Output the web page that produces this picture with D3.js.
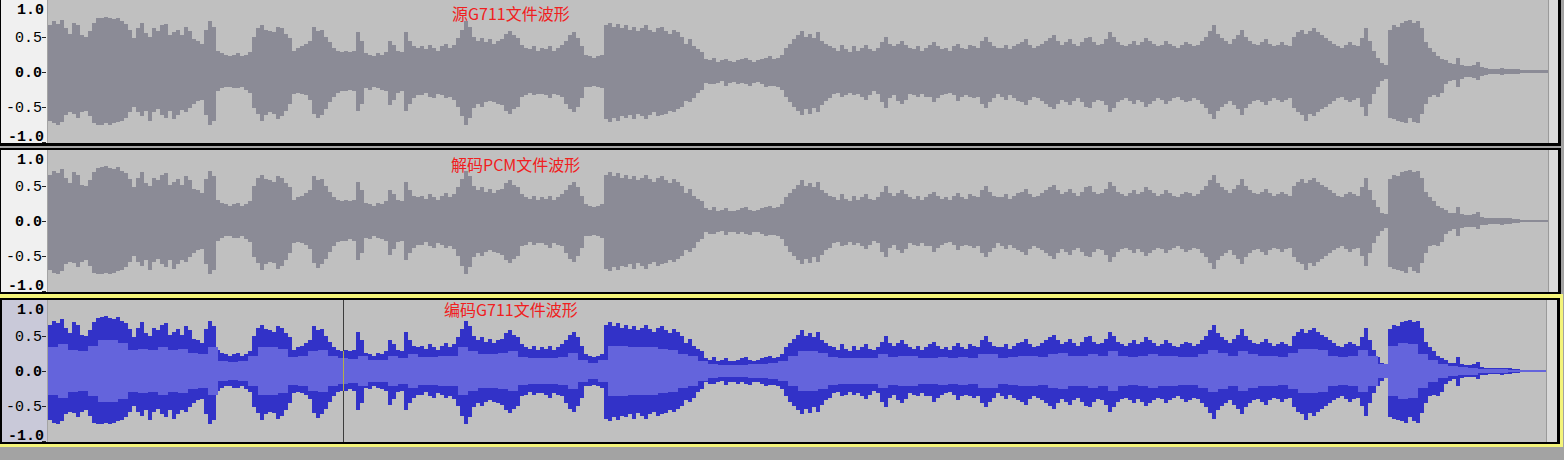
<!DOCTYPE html>
<html><head><meta charset="utf-8">
<script src="https://cdn.jsdelivr.net/npm/d3@7"></script>
<style>body{margin:0;background:#a3a3a3;overflow:hidden}svg{display:block}</style>
</head><body>
<script>
// ---------- DATA (amplitude x100, one value per waveform bin) ----------
const peakTop = [
 66,72,68,74,62,54,70,66,52,50,58,70,76,77,78,76,75,77,72,68,60,
 48,62,70,55,50,62,58,66,68,52,56,60,52,64,58,46,44,40,
 60,72,64,
 30,26,24,22,24,26,22,24,28,
 50,62,66,60,58,56,64,62,54,48,
 30,34,36,40,44,64,58,60,50,42,34,30,28,30,28,30,56,44,26,24,22,26,24,28,44,38,30,28,56,44,36,34,
 36,32,38,34,30,36,40,34,38,
 48,60,72,64,50,
 44,48,42,46,40,44,46,
 54,58,52,48,
 38,34,32,36,30,34,32,36,30,34,38,
 44,52,56,48,36,
 24,22,20,22,24,
 66,70,64,68,62,66,60,64,58,62,66,60,56,62,64,58,54,60,56,50,
 40,46,36,32,28,
 18,16,20,14,16,18,15,14,16,18,20,16,14,16,18,20,22,18,20,24,
 34,40,46,52,58,50,54,48,56,44,40,36,
 34,30,38,32,28,36,30,34,38,32,30,34,
 42,50,40,
 36,40,44,38,34,32,36,30,34,38,42,36,32,34,30,36,40,34,32,38,36,34,44,50,42,36,34,
 34,38,32,36,40,42,46,38,34,36,40,44,48,52,44,38,42,46,40,36,42,48,50,42,38,
 40,46,56,50,42,38,36,40,44,38,42,48,44,40,36,38,44,40,36,34,38,42,40,36,38,
 44,50,58,66,54,48,44,40,46,52,60,50,44,40,38,42,46,40,36,38,42,38,36,
 50,56,60,54,58,62,56,52,48,44,
 40,36,34,38,42,38,36,48,62,44,30,20,12,10,
 60,66,64,70,72,73,70,72,62,42,34,28,22,18,16,12,11,20,10,8,8,10,13,6,5,4,4,4,5,4,4,3,3,2,2,2,2,2,2,2
];
const peakBottom = [
 70,74,76,72,62,58,60,66,58,56,64,74,76,76,74,76,74,72,70,66,58,
 50,58,64,56,70,58,54,62,66,56,68,62,55,58,52,46,42,40,
 62,76,70,
 28,24,22,22,24,24,22,26,30,
 52,60,70,62,58,60,68,64,56,46,
 32,30,32,34,40,60,67,62,54,44,36,30,28,28,26,28,56,46,24,26,22,24,26,28,48,40,30,28,56,46,38,34,
 34,30,36,38,32,34,38,36,40,
 50,64,76,66,52,
 46,50,44,42,44,46,48,
 56,60,54,50,
 36,34,30,34,32,32,34,38,32,34,36,
 46,54,58,50,38,
 22,22,20,22,24,
 68,72,66,70,64,66,62,68,60,64,68,62,58,64,62,60,56,58,54,50,
 42,44,38,30,26,
 16,18,18,16,14,20,16,15,18,16,18,20,16,15,18,22,20,20,22,26,
 36,44,50,56,62,54,60,52,58,48,42,38,
 32,30,36,34,30,34,32,36,40,34,28,32,
 44,52,38,
 34,42,46,40,32,34,36,32,36,36,44,38,34,32,30,34,42,36,34,36,38,36,46,52,44,38,32,
 36,40,34,38,42,44,48,40,36,38,42,46,50,54,46,40,44,48,42,38,44,50,52,44,40,
 42,48,58,52,44,40,38,42,46,40,44,50,46,42,38,40,46,42,38,36,40,44,42,38,40,
 46,52,60,68,56,50,46,42,48,54,62,52,46,42,40,44,48,42,38,40,44,40,38,
 52,58,62,70,60,64,58,54,50,46,
 42,38,36,40,44,40,38,50,64,46,32,22,14,10,
 66,68,70,72,74,66,72,74,60,46,36,34,36,30,18,14,12,22,10,8,8,9,12,6,5,4,4,4,5,4,4,3,3,2,2,2,2,2,2,2
];
const rmsLevel = [
 34,38,30,28,36,44,44,40,30,32,
 30,34,30,32,26,24,34,14,13,14,
 22,34,34,32,20,22,28,30,22,18,
 17,22,16,16,22,18,24,20,20,21,
 22,34,28,24,24,26,28,20,18,18,
 19,20,26,16,12,16,36,36,34,34,
 34,32,30,24,22,14,10,9,9,9,
 10,10,11,14,22,28,28,26,20,18,
 18,19,18,24,20,22,22,18,18,20,
 19,20,18,24,24,18,20,22,22,20,
 24,26,22,22,24,22,28,22,20,22,
 24,22,21,20,20,24,30,26,22,28,
 24,22,22,20,26,32,32,30,22,20,
 22,30,22,10,36,40,38,24,16,10,
 7,6,5,3,3,3,2,2,2,2
];
const tickValues = [1, 0.5, 0, -0.5, -1];
const tickLabels = ["1.0", "0.5", "0.0", "-0.5", "-1.0"];
const trackTitles = ["源G711文件波形", "解码PCM文件波形", "编码G711文件波形"];
const cursorBin = 73.75;

// ---------- LAYOUT ----------
const W = 1564, H = 460;
const tracks = [
  {title: trackTitles[0], top: 0,   bottom: 143, frameTop: -6,  frameBottom: 146, waveRight: 1548, right: 1558, selected: false, tx: 452, ty: 20},
  {title: trackTitles[1], top: 150, bottom: 292, frameTop: 148, frameBottom: 294, waveRight: 1548, right: 1558, selected: false, tx: 451, ty: 171},
  {title: trackTitles[2], top: 300, bottom: 442, frameTop: 298, frameBottom: 444, waveRight: 1546, right: 1557, selected: true,  tx: 444, ty: 316}
];

const svg = d3.select("body").append("svg").attr("width", W).attr("height", H);
svg.append("rect").attr("width", W).attr("height", H).attr("fill", "#a3a3a3");

const x = d3.scaleLinear().domain([0, peakTop.length]).range([48, 1548]);
const xr = d3.scaleLinear().domain([0, rmsLevel.length]).range([48, 1548]);

// yellow focus border for selected track
svg.append("rect").attr("x", 0).attr("y", 294).attr("width", 1563).attr("height", 153).attr("fill", "#f4f47a");

tracks.forEach((t, i) => {
  const g = svg.append("g");
  const right = t.right;
  // black frame
  g.append("rect").attr("x", 0).attr("y", t.frameTop).attr("width", right + 3).attr("height", t.frameBottom - t.frameTop).attr("fill", "#000");
  // ruler
  const left = t.selected ? 2 : 1;
  g.append("rect").attr("x", left).attr("y", t.top).attr("width", 47 - left).attr("height", t.bottom - t.top)
    .attr("fill", t.selected ? "#c9c9d9" : "#f0f0f0");
  g.append("line").attr("x1", 47.5).attr("x2", 47.5).attr("y1", t.top).attr("y2", t.bottom).attr("stroke", "#a4a4a4");
  // wave background
  g.append("rect").attr("x", 48).attr("y", t.top).attr("width", t.waveRight - 48).attr("height", t.bottom - t.top).attr("fill", "#c0c0c0");
  // right strip
  g.append("rect").attr("x", t.waveRight).attr("y", t.top).attr("width", right - t.waveRight).attr("height", t.bottom - t.top).attr("fill", "#d9d9d9");
  g.append("line").attr("x1", t.waveRight + 0.5).attr("x2", t.waveRight + 0.5).attr("y1", t.top).attr("y2", t.bottom).attr("stroke", "#9a9a9a");

  const center = (t.top + t.bottom) / 2;
  const y = d3.scaleLinear().domain([-1, 1]).range([center + 70, center - 70]);

  const clipId = "clip" + i;
  svg.append("clipPath").attr("id", clipId).append("rect")
    .attr("x", 48).attr("y", t.top).attr("width", t.waveRight - 48).attr("height", t.bottom - t.top);
  const wg = g.append("g").attr("clip-path", `url(#${clipId})`).attr("shape-rendering", "crispEdges");

  wg.selectAll("rect.peak").data(peakTop).join("rect").attr("class", "peak")
    .attr("x", (d, k) => x(k)).attr("width", (d, k) => x(k + 1) - x(k))
    .attr("y", d => y(d / 100))
    .attr("height", (d, k) => Math.max(1, y(-peakBottom[k] / 100) - y(d / 100)))
    .attr("fill", t.selected ? "#3232c8" : "#8b8b96");

  if (t.selected) {
    wg.selectAll("rect.rms").data(rmsLevel).join("rect").attr("class", "rms")
      .attr("x", (d, k) => xr(k)).attr("width", (d, k) => xr(k + 1) - xr(k))
      .attr("y", d => y(d / 100)).attr("height", d => Math.max(1, y(-d / 100) - y(d / 100)))
      .attr("fill", "#6464dc");
    // edit cursor
    const cx = Math.round(x(cursorBin)) + 0.5;
    const kb = Math.floor(cursorBin);
    wg.append("line").attr("x1", cx).attr("x2", cx).attr("y1", t.top).attr("y2", t.bottom).attr("stroke", "#3c3c3c");
    wg.append("line").attr("x1", cx).attr("x2", cx)
      .attr("y1", y(peakTop[kb] / 100)).attr("y2", y(-peakBottom[kb] / 100)).attr("stroke", "#b4ae48");
  }

  // ruler ticks + labels
  const rg = g.append("g");
  tickValues.forEach((v, k) => {
    const ty = Math.round(y(v)) + 0.5;
    if (Math.abs(v) !== 1) {
      rg.append("line").attr("x1", 42).attr("x2", 46).attr("y1", ty).attr("y2", ty).attr("stroke", "#222");
    }
    const ly = Math.min(Math.max(y(v), t.top + 8.5), t.bottom - 7.5);
    rg.append("text").attr("x", (Math.abs(v) === 1) ? 44 : 42).attr("y", ly).attr("dy", "0.36em")
      .attr("text-anchor", "end")
      .attr("font-family", "'Liberation Mono', 'DejaVu Sans Mono', monospace")
      .attr("font-size", 15)
      .attr("font-weight", (v === 0 || Math.abs(v) === 1) ? "bold" : "normal")
      .attr("fill", "#000").text(tickLabels[k]);
  });
  rg.append("line").attr("x1", 42).attr("x2", 46).attr("y1", t.bottom - 0.5).attr("y2", t.bottom - 0.5).attr("stroke", "#222");

  // title
  g.append("text").attr("x", t.tx).attr("y", t.ty)
    .attr("font-family", "'Noto Sans CJK SC', sans-serif").attr("font-size", 16)
    .attr("fill", "#f02020").text(t.title);
});
</script>
</body></html>
